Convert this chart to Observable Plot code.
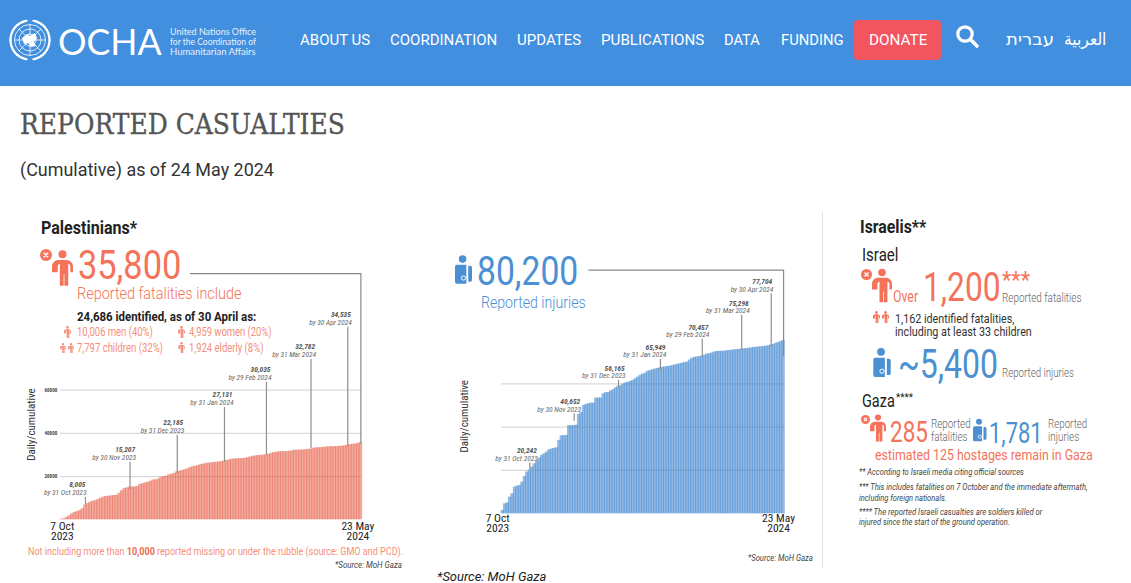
<!DOCTYPE html>
<html><head><meta charset="utf-8">
<script src="https://cdn.jsdelivr.net/npm/d3@7"></script>
<script src="https://cdn.jsdelivr.net/npm/@observablehq/plot@0.6"></script>
<style>
html,body{margin:0;padding:0;background:#fff;width:1131px;height:583px;overflow:hidden;font-family:Roboto,sans-serif}
.t{position:absolute;white-space:nowrap;line-height:1;transform-origin:left center}
.abs{position:absolute}
</style></head><body>
<script>
// ---------- data ----------
const fatalities = [
 300,500,1200,1850,2770,3400,3850,4300,5100,6800,
 7600,8200,8600,8900,9500,10000,10500,10800,10950,11100,
 11250,11300,12300,13550,14500,14800,15207,15207,15250,15500,
 16400,16700,17100,17400,17900,18500,18500,18900,19700,20000,
 20200,20800,21100,21500,22185,22500,22800,23200,23600,24100,
 24600,24800,25100,25500,25800,26000,26200,26400,26500,26650,
 26800,26950,27131,27500,27800,28000,28200,28250,28300,28350,
 28500,28800,29100,29400,29600,29750,29900,29950,30035,30400,
 30800,31100,31300,31490,31520,31550,31600,31700,32000,32200,
 32250,32300,32350,32400,32600,32782,33100,33300,33340,33400,
 33600,33700,33800,33850,33900,33950,34000,34100,34300,34535,
 34750,34950,35150,35350,35800];
const injuries = [
 1540,4600,5100,7700,9240,12300,12800,13100,14600,17250,
 19250,20242,21560,23100,24300,25700,26950,27700,28500,29600,
 29900,30180,30500,33900,36000,36000,36200,40652,40652,40652,
 40900,45900,46700,50000,50500,50800,51100,51100,53400,53400,
 53450,55400,55900,56000,56700,57300,58200,58800,59100,59900,
 60400,60700,61100,61600,62400,63100,63900,64500,64900,65800,
 66100,66450,66800,67100,67400,67600,67800,67950,68100,68400,
 68700,69000,69200,69500,69800,70000,71000,71800,72200,72400,
 72600,72750,73200,73700,73900,74200,74600,74900,74950,75000,
 75100,75200,75350,75500,75650,75800,75900,76000,76100,76250,
 76400,76600,76750,76850,77000,77100,77250,77350,77600,77900,
 78200,78700,79100,79500,80000];
const noteDates = ["by 31 Oct 2023","by 30 Nov 2023","by 31 Dec 2023","by 31 Jan 2024","by 29 Feb 2024","by 31 Mar 2024","by 30 Apr 2024"];
const fatalityNotes = ["8,005","15,207","22,185","27,131","30,035","32,782","34,535"];
const injuryNotes = ["20,242","40,652","56,165","65,949","70,457","75,298","77,704"];
const fatalityNoteBars = [9,26,44,62,78,95,109];
const injuryNoteBars = [11,29,47,64,81,97,109];
const fatalityLeaderTop = [10300,26700,39000,52000,63700,74200,89200];
const fatalityLeaderFoot = [6760,14000,21400,26700,29800,33000,34100];
const injuryLeaderTop = [23400,46200,61600,71200,80500,91600,101600];
const injuryLeaderFoot = [20300,42700,58300,65700,72100,75300,76700];
const fatalityNudge = [1,6,7,9,5,5,4];
const injuryNudge = [8,7,7,6,7,8,2];
const firstDay = "7 Oct\n2023", lastDay = "23 May\n2024";
const yTicks = [20000,40000,60000];

// ---------- helpers ----------
const NARROW = '"Roboto Condensed","Liberation Sans Narrow",Roboto,sans-serif';
const ROB = 'Roboto,sans-serif';
const RED = "#f4735a", BLUE = "#4a90d2", LRED = "#f58f7c";
function T(txt,x,y,size,w,o={}){
  const d=document.createElement("div");d.className="t";
  d.innerHTML=txt;
  Object.assign(d.style,{left:x+"px",top:y+"px",fontSize:size+"px",fontFamily:o.font||ROB,
    color:o.color||"#333",fontWeight:o.weight||400,fontStyle:o.italic?"italic":"normal"});
  if(o.stroke)d.style.webkitTextStroke=o.stroke;
  document.body.appendChild(d);
  const r=d.offsetWidth;
  d.style.transform=`translateY(-50%) scaleX(${w/r})`;
}
function svg(x,y,w,h,vb,inner){
  const d=document.createElement("div");d.className="abs";
  d.style.left=x+"px";d.style.top=y+"px";
  d.innerHTML=`<svg width="${w}" height="${h}" viewBox="${vb}" style="display:block;overflow:visible">${inner}</svg>`;
  document.body.appendChild(d);
}
const personPath=c=>`<circle cx="11" cy="4.2" r="4.2" fill="${c}"/><path fill="${c}" d="M7 10h8c4 0 7 3 7 7v6h-2.8v-6c0-1.5-.8-2.5-2.2-3V37h-4V25h-.8v12h-4V14c-1.4.5-2.2 1.5-2.2 3v6H0v-6c0-4 3-7 7-7z"/>`;
function person(x,y,w,h,c){svg(x,y,w,h,"0 0 22 37",personPath(c))}
function cross(cx,cy,r){svg(cx-r,cy-r,2*r,2*r,"0 0 12 12",`<circle cx="6" cy="6" r="6" fill="${RED}"/><path d="M3.8 3.8l4.4 4.4M8.2 3.8l-4.4 4.4" stroke="#fff" stroke-width="1.5"/>`)}
function injured(x,y,w,h){svg(x,y,w,h,"0 0 18 30",`<circle cx="8" cy="4" r="4" fill="${BLUE}"/><path fill="${BLUE}" d="M2 10h10v20H2a2 2 0 0 1-2-2V12a2 2 0 0 1 2-2z"/><path fill="${BLUE}" d="M14 11h2a2 2 0 0 1 2 2v13a2 2 0 0 1-2 2h-2z"/><circle cx="9" cy="24" r="2.2" fill="none" stroke="#fff" stroke-width="1"/>`)}

// ---------- page furniture ----------
const bar=document.createElement("div");bar.className="abs";
Object.assign(bar.style,{left:0,top:0,width:"1131px",height:"86px",background:"#418fde"});
document.body.appendChild(bar);
let wreath="";
for(let a=-150;a<=150;a+=20){for(const s of [-1,1]){
  const c=Math.cos((a/2)*Math.PI/180),n=Math.sin((a/2)*Math.PI/180);
  const ex=30+s*19.5*c,ey=40-19.5*n;
  wreath+=`<ellipse cx="${ex}" cy="${ey}" rx="1.2" ry="3" fill="#fff" transform="rotate(${s*(-a/2)} ${ex} ${ey})"/>`;
}}
svg(0,0,60,80,"0 0 60 80",`<g fill="none" stroke="#fff" stroke-width=".8"><circle cx="30" cy="40" r="15.5"/><circle cx="30" cy="40" r="11"/><circle cx="30" cy="40" r="6"/><path d="M30 24.5v31M14.5 40h31M19 29l22 22M41 29L19 51"/></g><path fill="#fff" d="M22 38l5-4 3 2 5-3 2 5-3 4 2 4-5 1-3-4-4 1z"/>${wreath}`);
T("OCHA",58,41,36,104,{color:"#fff",font:"Lato,Roboto",weight:400});
["United Nations Office","for the Coordination of","Humanitarian Affairs"].forEach((s,i)=>
  T(s,170,32+10*i,9.5,86,{color:"#e8f1fb",font:"Lato,Roboto",weight:400}));
[["ABOUT US",300,70],["COORDINATION",390,107],["UPDATES",517,64],["PUBLICATIONS",601,103],["DATA",724,36],["FUNDING",781,63]]
 .forEach(([s,x,w])=>T(s,x,40,15,w,{color:"#fff"}));
const don=document.createElement("div");don.className="abs";
Object.assign(don.style,{left:"854px",top:"20px",width:"87px",height:"40px",background:"#f2555f",borderRadius:"4px"});
document.body.appendChild(don);
T("DONATE",869,40.5,14.5,58,{color:"#fff",weight:400});
svg(955,24,24,24,"0 0 24 24",`<circle cx="10" cy="10" r="7.2" fill="none" stroke="#fff" stroke-width="3.2"/><path d="M15.5 15.5l6.5 6.5" stroke="#fff" stroke-width="3.6" stroke-linecap="round"/>`);
T("עברית",1006,39,17,48,{color:"#fff",font:'"DejaVu Sans"'});
T("العربية",1064,39,17,42,{color:"#fff",font:'"DejaVu Sans"'});
T("REPORTED CASUALTIES",20,124,27,325,{color:"#555",font:'"DejaVu Serif"',stroke:".35px #555"});
T("(Cumulative) as of 24 May 2024",20,170,18,254,{color:"#333"});
const div=document.createElement("div");div.className="abs";
Object.assign(div.style,{left:"822px",top:"212px",width:"1px",height:"356px",background:"#dfe0e8"});
document.body.appendChild(div);

// ---------- left texts ----------
T("Palestinians*",40.7,228,18,96.3,{color:"#222",weight:700});
cross(46,255,6);person(52,250,21,36,RED);
T("35,800",78,266,40,103,{color:RED,weight:400});
T("Reported fatalities include",77,293,17,164.7,{color:RED,weight:300});
T("24,686 identified, as of 30 April as:",77,317,13.5,179,{color:"#222",weight:700});
T("10,006 men (40%)",77,332,12,75.7,{color:LRED});
T("4,959 women (20%)",188.7,332,12,82.3,{color:LRED});
T("7,797 children (32%)",77,348,12,85.7,{color:LRED});
T("1,924 elderly (8%)",188.7,348,12,74.3,{color:LRED});
person(63.5,326,7,12,LRED);person(177.5,326,7,12,LRED);
person(60,343,6,10,LRED);person(67.7,343,6,10,LRED);person(178,342,7,11,LRED);
T('Not including more than <b style="font-weight:700;color:#ef6a50">10,000</b> reported missing or under the rubble (source: GMO and PCD).',28.3,550.7,11,374.7,{color:LRED});
T("*Source: MoH Gaza",335,565,9,67,{color:"#444",italic:true});

// ---------- middle texts ----------
injured(455,254,17,31);
T("80,200",476.7,272,40,101,{color:BLUE,weight:400});
T("Reported injuries",481,301.7,17,104.7,{color:BLUE,weight:300});
T("*Source: MoH Gaza",748,558,8.5,65,{color:"#444",italic:true});
T("*Source: MoH Gaza",437,576.5,12,109,{color:"#222",italic:true});

// ---------- right panel ----------
T("Israelis**",860,227.3,18,66,{color:"#222",weight:700});
T("Israel",862,255,18,36.7,{color:"#222"});
cross(866.7,274,5.5);person(872,268,20,35,RED);
T("Over",893.3,296.7,16,25.4,{color:RED});
T("1,200",923.3,287.7,40,77.7,{color:RED});
T("***",1002,280,24,28,{color:RED});
T("Reported fatalities",1001.7,297.7,12.5,79.3,{color:"#666",weight:300});
person(872.5,310,7,14,RED);person(881.5,310,7,14,RED);
T("1,162 identified fatalities,",895,317.7,13,119,{color:"#333"});
T("including at least 33 children",894.5,331,13,136.5,{color:"#333"});
injured(873,348,18,29);
T("~5,400",898,365,40,100,{color:BLUE});
T("Reported injuries",1001.7,373,12.5,72.3,{color:"#666",weight:300});
T("Gaza",862,401,18,33,{color:"#222"});
T("****",896,397,11,17,{color:"#222"});
cross(865,419,4.5);person(870,414,16,28,RED);
T("285",890,431.7,29,38,{color:RED});
T("Reported",931.3,424,12.5,39.4,{color:"#666",weight:300});
T("fatalities",931.3,437.3,12.5,36.7,{color:"#666",weight:300});
injured(972.7,418,13.5,24);
T("1,781",989,432.7,29,53.7,{color:BLUE});
T("Reported",1048,424,12.5,39,{color:"#666",weight:300});
T("injuries",1048,437.3,12.5,31,{color:"#666",weight:300});
T("estimated 125 hostages remain in Gaza",875.3,455.3,15,218,{color:RED});
[["** According to Israeli media citing official sources",472,165],
 ["*** This includes fatalities on 7 October and the immediate aftermath,",487,228.7],
 ["including foreign nationals.",497.7,87.7],
 ["**** The reported Israeli casualties are soldiers killed or",511.7,183],
 ["injured since the start of the ground operation.",521.7,151]]
 .forEach(([s,y,w])=>T(s,859,y,9,w,{color:"#444",italic:true}));

// ---------- charts ----------
function chart({values,notes,noteBars,top,foot,nudge,yMax,fill,opacity,left,topPx,height,marginLeft,marginRight,marginBottom,
                elbowFrom,elbowTop,elbowFoot,labelY,showTicks,firstDx,lastDx,tickPad,valueDy,dateDy}){
  const bars=values.map((v,i)=>({i,v}));
  const ann=notes.map((n,k)=>({n,d:noteDates[k],x:noteBars[k],top:top[k],foot:foot[k]}));
  const marks=[
    Plot.gridY(yTicks,{stroke:"#d9d9d9",strokeOpacity:1,strokeWidth:1.2}),
    Plot.barY(bars,{x:"i",y:"v",fill,fillOpacity:opacity,insetLeft:-0.45,insetRight:-0.45}),
    Plot.ruleX(ann,{x:"x",y1:"foot",y2:"top",stroke:"#8f8f8f",strokeWidth:1.2}),
    Plot.line([{x:elbowFrom,y:elbowTop},{x:values.length-1,y:elbowTop},{x:values.length-1,y:elbowFoot}],{x:"x",y:"y",stroke:"#8a8a8a",strokeWidth:1.2}),
    Plot.text(["Daily/cumulative"],{frameAnchor:"left",textAnchor:"middle",y:()=>labelY,dx:-marginLeft+(showTicks?10.5:24),rotate:-90,fontSize:11,fill:"#333",text:d=>d}),
    Plot.axisX({ticks:[0],tickFormat:()=>firstDay,tickSize:0,tickPadding:tickPad,dx:firstDx,label:null,fontSize:11.5,lineHeight:.9,fill:"#222"}),
    Plot.axisX({ticks:[values.length-1],tickFormat:()=>lastDay,tickSize:0,tickPadding:tickPad,dx:lastDx,label:null,fontSize:11.5,lineHeight:.9,fill:"#222"})
  ];
  ann.forEach((a,k)=>{
    marks.push(Plot.text([a],{x:"x",y:"top",text:"d",textAnchor:"end",dx:nudge[k],dy:dateDy,fontSize:7.4,fontStyle:"italic",fill:"#666"}));
    marks.push(Plot.text([a],{x:"x",y:"top",text:"n",textAnchor:"end",dx:nudge[k]-1,dy:valueDy,fontSize:7.4,fontStyle:"italic",fontWeight:700,fill:"#555"}));
  });
  if(showTicks)marks.push(Plot.axisY({ticks:yTicks,tickFormat:d=>String(d),tickSize:0,tickPadding:3.3,label:null,fontSize:5,fontWeight:700,fill:"#444"}));
  const p=Plot.plot({width:350,height,marginLeft,marginRight,marginBottom,marginTop:0,
    style:{fontFamily:NARROW,background:"transparent",overflow:"visible"},
    x:{type:"band",domain:d3.range(values.length),padding:0,round:false,axis:null},
    y:{domain:[0,yMax],axis:null},marks});
  const h=document.createElement("div");h.className="abs";h.style.left=left+"px";h.style.top=topPx+"px";
  h.appendChild(p);document.body.appendChild(h);
}
chart({values:fatalities,notes:fatalityNotes,noteBars:fatalityNoteBars,top:fatalityLeaderTop,foot:fatalityLeaderFoot,nudge:fatalityNudge,
  yMax:120050,fill:"#e8604a",opacity:.55,left:20,topPx:260,height:290,marginLeft:40,marginRight:8.3,marginBottom:30.7,
  elbowFrom:49,elbowTop:114000,elbowFoot:35500,labelY:44100,showTicks:true,firstDx:0.5,lastDx:-3,tickPad:3,valueDy:-13,dateDy:-5});
chart({values:injuries,notes:injuryNotes,noteBars:injuryNoteBars,top:injuryLeaderTop,foot:injuryLeaderFoot,nudge:injuryNudge,
  yMax:116900,fill:"#3f86cf",opacity:.58,left:440,topPx:260,height:285,marginLeft:61,marginRight:5.7,marginBottom:31.7,
  elbowFrom:35,elbowTop:112500,elbowFoot:73000,labelY:45000,showTicks:false,firstDx:-5,lastDx:-5,tickPad:1,valueDy:-12,dateDy:-4.5});
</script>
</body></html>
